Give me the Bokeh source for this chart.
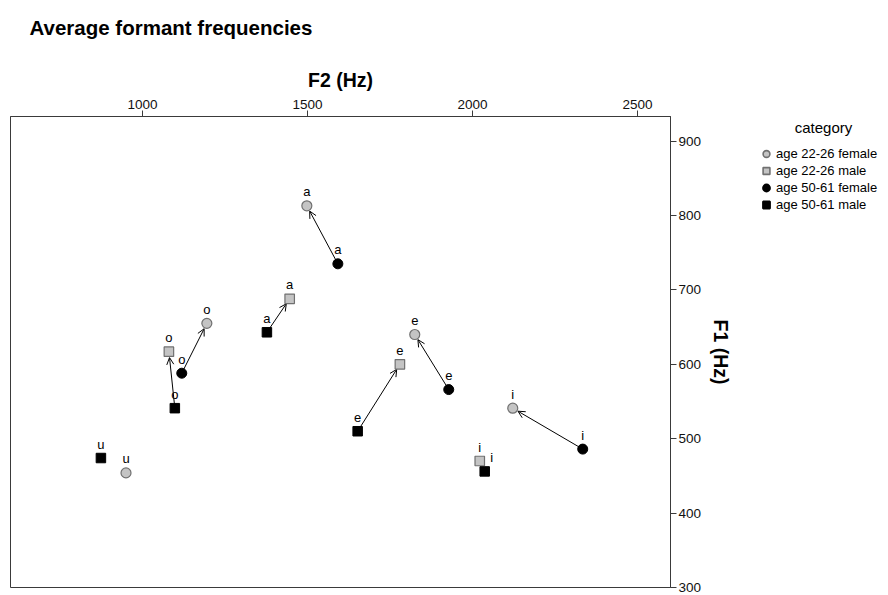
from bokeh.plotting import figure
from bokeh.layouts import row
from bokeh.models import (Range1d, FixedTicker, Legend, LegendItem, Arrow, OpenHead,
                          ColumnDataSource, Title, Label)
from bokeh.embed import file_html
from bokeh.resources import INLINE

# ---------------- data ----------------
groups = ["age 22-26 female", "age 22-26 male", "age 50-61 female", "age 50-61 male"]

young_female_vowels = ["a", "o", "u", "e", "i"]
young_female_f2 = [1498, 1195, 950, 1825, 2122]
young_female_f1 = [813, 655, 454, 640, 541]

young_male_vowels = ["a", "o", "e", "i"]
young_male_f2 = [1446, 1080, 1780, 2022]
young_male_f1 = [688, 617, 600, 470]

old_female_vowels = ["a", "o", "e", "i"]
old_female_f2 = [1592, 1119, 1928, 2334]
old_female_f1 = [735, 588, 566, 486]

old_male_vowels = ["a", "o", "u", "e", "i"]
old_male_f2 = [1377, 1098, 874, 1652, 2037]
old_male_f1 = [643, 541, 474, 510, 456]

# arrows: old -> young, same sex
arrow_female_vowels = ["a", "o", "e", "i"]
arrow_male_vowels = ["a", "o", "e"]

f2_ticks = [1000, 1500, 2000, 2500]
f1_ticks = [300, 400, 500, 600, 700, 800, 900]

# ---------------- layout constants ----------------
W, H = 740, 595
LW = 888 - W
B_LEFT, B_RIGHT, B_TOP, B_BOTTOM = 10, 70, 116, 8
X0, X1 = 600, 2600
Y0, Y1 = 300, 933
FONT = "Liberation Sans"
AX_COLOR = "#3a3a3a"
GRAY_FILL = "#c4c4c4"
GRAY_LINE = "#707070"

p = figure(width=W, height=H, x_range=Range1d(X0, X1), y_range=Range1d(Y0, Y1),
           x_axis_location="above", y_axis_location="right",
           output_backend="svg", toolbar_location=None,
           min_border_left=B_LEFT, min_border_right=B_RIGHT,
           min_border_top=B_TOP, min_border_bottom=B_BOTTOM,
           background_fill_color="white", border_fill_color="white")

p.xgrid.visible = False
p.ygrid.visible = False
p.outline_line_color = AX_COLOR
p.outline_line_width = 1
p.outline_line_alpha = 1

p.title.text = ""
p.title.standoff = 0

for ax, ticks, label in ((p.xaxis[0], f2_ticks, "F2 (Hz)"), (p.yaxis[0], f1_ticks, "F1 (Hz)")):
    ax.ticker = FixedTicker(ticks=ticks)
    ax.axis_label = label
    ax.axis_label_text_font = FONT
    ax.axis_label_text_font_size = "19.5px"
    ax.axis_label_text_font_style = "bold"
    ax.axis_label_text_color = "black"
    ax.major_label_text_font = FONT
    ax.major_label_text_font_size = "13.5px"
    ax.major_label_text_color = "#111111"
    ax.axis_line_color = AX_COLOR
    ax.major_tick_line_color = AX_COLOR
    ax.major_tick_out = 6
    ax.major_tick_in = 0
    ax.minor_tick_line_color = None
    ax.major_label_standoff = 2

p.xaxis[0].axis_label_standoff = 6
p.yaxis[0].axis_label_standoff = 6

# spacer between axis and title, then the title itself (outermost)
p.add_layout(Title(text=" ", text_font_size="2px", standoff=18), "above")
p.add_layout(Title(text="Average formant frequencies", text_font=FONT, text_font_size="20.5px",
                   text_font_style="bold", text_color="black", align="left",
                   offset=19, standoff=10), "above")

# ---------------- glyphs ----------------
src_yf = ColumnDataSource(dict(x=young_female_f2, y=young_female_f1, v=young_female_vowels))
src_ym = ColumnDataSource(dict(x=young_male_f2, y=young_male_f1, v=young_male_vowels))
src_of = ColumnDataSource(dict(x=old_female_f2, y=old_female_f1, v=old_female_vowels))
src_om = ColumnDataSource(dict(x=old_male_f2, y=old_male_f1, v=old_male_vowels))
sources = [src_yf, src_ym, src_of, src_om]

fw = W - B_LEFT - B_RIGHT
fh = H - B_TOP - B_BOTTOM
kx = fw / (X1 - X0)
ky = fh / (Y1 - Y0)


def lookup(vs, xs, ys, v):
    i = vs.index(v)
    return xs[i], ys[i]


def add_arrow(start, end, gap=6.0):
    sx, sy = start
    ex, ey = end
    dxp = (ex - sx) * kx
    dyp = (ey - sy) * ky
    L = (dxp ** 2 + dyp ** 2) ** 0.5
    f = (L - gap) / L
    ex2 = sx + (ex - sx) * f
    ey2 = sy + (ey - sy) * f
    p.add_layout(Arrow(x_start=sx, y_start=sy, x_end=ex2, y_end=ey2,
                       line_color="black", line_width=1,
                       end=OpenHead(size=7, line_width=1, line_color="black"),
                       level="underlay"))


for v in arrow_female_vowels:
    add_arrow(lookup(old_female_vowels, old_female_f2, old_female_f1, v),
              lookup(young_female_vowels, young_female_f2, young_female_f1, v))
for v in arrow_male_vowels:
    add_arrow(lookup(old_male_vowels, old_male_f2, old_male_f1, v),
              lookup(young_male_vowels, young_male_f2, young_male_f1, v))

marker_styles = [
    dict(marker="circle", size=10, fill_color=GRAY_FILL, line_color=GRAY_LINE, line_width=1.2),
    dict(marker="square", size=9.5, fill_color=GRAY_FILL, line_color=GRAY_LINE, line_width=1.2),
    dict(marker="circle", size=10, fill_color="black", line_color="black", line_width=1),
    dict(marker="square", size=9.5, fill_color="black", line_color="black", line_width=1),
]

for src, st in zip(sources, marker_styles):
    p.scatter("x", "y", source=src, **st)

# vowel labels above markers
for src in (src_yf, src_ym, src_of):
    p.text("x", "y", text="v", source=src, text_align="center", text_baseline="alphabetic",
           y_offset=-14, text_font_size="13px", text_font={"value": FONT},
           text_color="black")
# old male labels: the "i" label sits to the right to avoid the neighbouring marker
src_om.data["dx"] = [0 if v != "i" else 7 for v in old_male_vowels]
p.text("x", "y", text="v", source=src_om, text_align="center", text_baseline="alphabetic",
       y_offset=-14, x_offset="dx", text_font_size="13px", text_font={"value": FONT},
       text_color="black")

# ---------------- legend panel (separate figure on the right) ----------------
# its frame is aligned with the main plot's frame (top 116, bottom 587);
# ranges chosen so that data units equal page pixels there
pl = figure(width=LW, height=H, x_range=Range1d(0, LW), y_range=Range1d(H - B_BOTTOM, B_TOP),
            x_axis_location=None, y_axis_location=None,
            output_backend="svg", toolbar_location=None,
            min_border_left=0, min_border_right=0,
            min_border_top=B_TOP, min_border_bottom=B_BOTTOM,
            outline_line_color=None, background_fill_color="white",
            border_fill_color="white")
pl.xgrid.visible = False
pl.ygrid.visible = False

legend_styles = [
    dict(marker="circle", size=10, fill_color=GRAY_FILL, line_color=GRAY_LINE, line_width=1.6),
    dict(marker="square", size=9.5, fill_color=GRAY_FILL, line_color=GRAY_LINE, line_width=1.6),
    dict(marker="circle", size=10, fill_color="black", line_color="black", line_width=2),
    dict(marker="square", size=9.5, fill_color="black", line_color="black", line_width=2),
]
# legend renderers reuse the real sources; their values lie outside this panel's ranges
leg_renderers = [pl.scatter("x", "y", source=src, **st) for src, st in zip(sources, legend_styles)]

legend = Legend(items=[LegendItem(label=g, renderers=[r]) for g, r in
                       zip(groups, leg_renderers)],
                location=(16, 374), orientation="vertical",
                glyph_width=20, glyph_height=17, spacing=0, label_standoff=0,
                padding=0, margin=0, border_line_color=None, background_fill_alpha=0,
                label_text_font=FONT, label_text_font_size="13px",
                label_text_color="black", label_height=14)
pl.add_layout(legend)
pl.add_layout(Label(x=83, y=127, text="category", text_align="center",
                    text_baseline="middle", text_font=FONT, text_font_size="15px",
                    text_color="black"))

layout = row(p, pl, spacing=0)
open("out.html", "w").write(file_html(layout, INLINE))
